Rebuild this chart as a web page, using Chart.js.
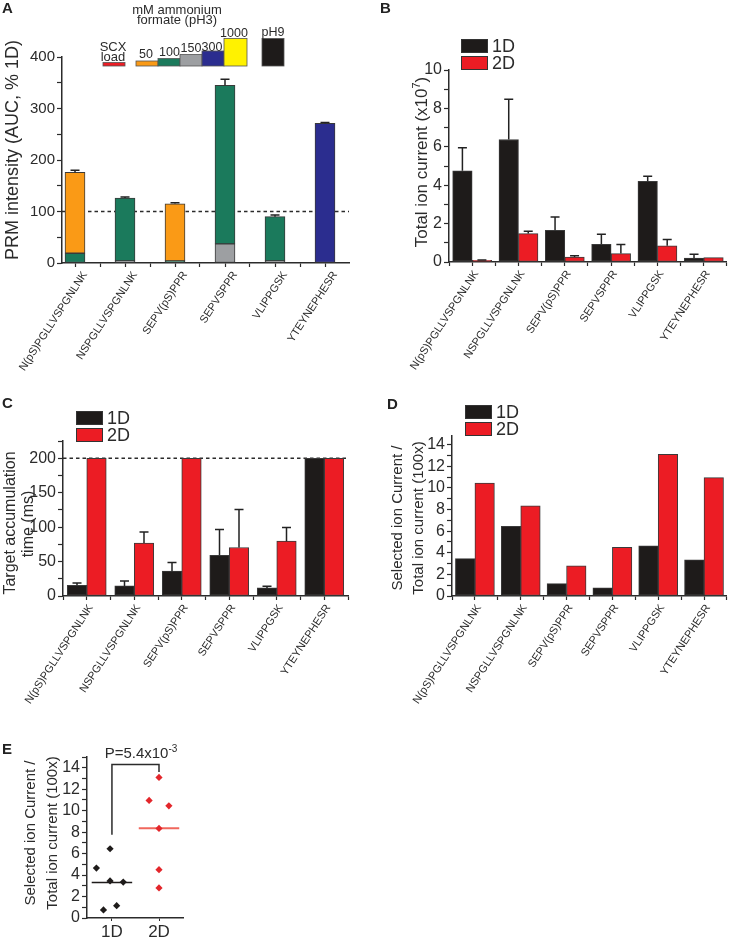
<!DOCTYPE html>
<html>
<head>
<meta charset="utf-8">
<script src="https://cdn.jsdelivr.net/npm/chart.js@4.4.0/dist/chart.umd.min.js"></script>
<style>
  body { margin: 0; background: #fff; width: 740px; height: 937px; position: relative; overflow: hidden; }
  canvas { position: absolute; }
  .tag { position: absolute; font: bold 15px "Liberation Sans", Arial, sans-serif; line-height: 15px; color: #222; }
</style>
</head>
<body>
<canvas id="chartA"></canvas>
<canvas id="chartB"></canvas>
<canvas id="chartC"></canvas>
<canvas id="chartD"></canvas>
<canvas id="chartE"></canvas>
<div class="tag" style="left:2px;top:0px">A</div>
<div class="tag" style="left:380px;top:0px">B</div>
<div class="tag" style="left:2px;top:395px">C</div>
<div class="tag" style="left:387px;top:396px">D</div>
<div class="tag" style="left:2px;top:741px">E</div>
<script>
// peptides (x categories, same order in A-D)
const peptides = ['N(pS)PGLLVSPGNLNK', 'NSPGLLVSPGNLNK', 'SEPV(pS)PPR', 'SEPVSPPR', 'VLIPPGSK', 'YTEYNEPHESR'];
const groups = ['1D', '2D'];

// A - PRM intensity (AUC, % 1D), split by SCX fraction (mM ammonium formate)
const frac150 = [null, 4, null, 37, 4, null];
const frac100 = [19, 122, 4, 308, 86, null];
const frac50 = [157, null, 111, null, null, null];
const frac300 = [null, null, null, null, null, 271];
const prmError = [4, 2, 2, 12, 3, 2];
const prmReference = 100;

// B - total ion current (x10^7)
const tic1D = [4.75, 6.38, 1.65, 0.92, 4.2, 0.21];
const tic2D = [0.09, 1.48, 0.26, 0.44, 0.84, 0.23];
const ticErr1D = [1.2, 2.1, 0.7, 0.53, 0.27, 0.19];
const ticErr2D = [0.02, 0.12, 0.07, 0.47, 0.33, 0];

// C - target accumulation time (ms)
const accum1D = [15.5, 14.6, 36, 59, 11.7, 200];
const accum2D = [200, 77, 200, 70.4, 79.6, 200];
const accumErr1D = [3.5, 7, 12.6, 37.6, 2.3, 0];
const accumErr2D = [0, 16, 0, 55.3, 19.9, 0];
const accumLimit = 200;

// D / E - selected ion current / total ion current (100x)
const ratio1D = [3.45, 6.45, 1.15, 0.75, 4.65, 3.35];
const ratio2D = [10.45, 8.35, 2.8, 4.5, 13.1, 10.95];
// E - horizontal scatter position of each point
const scatterX1D = [-0.04, -0.04, 0.1, -0.18, -0.33, 0.24];
const scatterX2D = [1.21, 1, 1, 1, 1, 0.79];
const pValue = { mant: 'P=5.4x10', exp: '-3' };
const bracket = { top: 14.3, left: 7.75, right: 13.6 };

const FONT = '"Liberation Sans", Arial, Helvetica, sans-serif';
const INK = '#2b2b2b';
const BLACK = '#1e1b1a';
const RED = '#ec1c24';
const ORANGE = '#fa9a16';
const GREEN = '#1b7a5c';
const GREY = '#9d9fa2';
const BLUE = '#2b2d8f';
const YELLOW = '#fff200';
const font = (size, weight) => (weight || '') + ' ' + size + 'px ' + FONT;

const mean = arr => arr.reduce((a, b) => a + b, 0) / arr.length;
const xy = vals => vals.map((v, i) => ({ x: i, y: v }));

function xPeptideAxis(min, max, shift) {
  return {
    type: 'linear', min: min, max: max, offset: false,
    border: { color: INK, width: 1.5 },
    grid: { offset: false, drawOnChartArea: false, drawTicks: true, tickLength: 4, tickColor: INK, tickWidth: 1.2 },
    ticks: {
      stepSize: 0.5, includeBounds: false, autoSkip: false, minRotation: 57, maxRotation: 57,
      padding: 2, labelOffset: shift, color: INK, font: { family: FONT, size: 11 },
      callback: v => Number.isInteger(v) && peptides[v] ? peptides[v] : ''
    }
  };
}

function yAxis(max, step, every, size) {
  return {
    type: 'linear', min: 0, max: max,
    border: { color: INK, width: 1.5 },
    grid: { drawOnChartArea: false, drawTicks: true, tickLength: 5, tickColor: INK, tickWidth: 1.2 },
    ticks: {
      stepSize: step, includeBounds: false, autoSkip: false, padding: 2, color: INK,
      font: { family: FONT, size: size || 16 },
      callback: v => (Math.abs(v / every - Math.round(v / every)) < 1e-6 ? v : '')
    }
  };
}

function makeChart(id, box, area, cfg) {
  const cv = document.getElementById(id);
  cv.width = box.w; cv.height = box.h;
  cv.style.left = box.x + 'px'; cv.style.top = box.y + 'px';
  const o = cfg.options;
  o.responsive = false;
  o.animation = false;
  o.layout = { padding: { top: area.y0 - box.y, right: box.x + box.w - area.x1, left: 0, bottom: 0 } };
  o.scales.x.afterFit = s => { s.height = box.y + box.h - area.y1; };
  o.scales.y.afterFit = s => { s.width = area.x0 - box.x; };
  o.plugins = Object.assign({ legend: { display: false }, tooltip: { enabled: false } }, o.plugins || {});
  return new Chart(cv, cfg);
}

// text helper: parts drawn centred on (x, y), optionally rotated
function rich(ctx, parts, x, y, angle) {
  ctx.save();
  ctx.translate(x, y);
  ctx.rotate(angle || 0);
  ctx.textBaseline = 'middle';
  ctx.textAlign = 'left';
  ctx.fillStyle = INK;
  let total = 0;
  parts.forEach(p => { ctx.font = p.font; p.w = ctx.measureText(p.t).width; total += p.w; });
  let cx = -total / 2;
  parts.forEach(p => { ctx.font = p.font; ctx.fillText(p.t, cx, p.dy || 0); cx += p.w; });
  ctx.restore();
}

function dashedLine(value) {
  return {
    id: 'dashed' + value,
    beforeDatasetsDraw(chart) {
      const { ctx, chartArea } = chart;
      const y = chart.scales.y.getPixelForValue(value);
      ctx.save();
      ctx.strokeStyle = INK; ctx.lineWidth = 1.4; ctx.setLineDash([3.5, 3]);
      ctx.beginPath(); ctx.moveTo(chartArea.left, y); ctx.lineTo(chartArea.right, y); ctx.stroke();
      ctx.restore();
    }
  };
}

// up-only error bars: sets = [{ dataset, base[], err[] }]
function errorBars(sets) {
  return {
    id: 'errorBars',
    afterDatasetsDraw(chart) {
      const ctx = chart.ctx, ys = chart.scales.y;
      ctx.save();
      ctx.strokeStyle = '#222'; ctx.lineWidth = 1.5;
      sets.forEach(s => {
        const meta = chart.getDatasetMeta(s.dataset);
        s.err.forEach((e, i) => {
          if (!e) return;
          const x = s.centred ? chart.scales.x.getPixelForValue(i) : meta.data[i].x;
          const y0 = ys.getPixelForValue(s.base[i]);
          const y1 = ys.getPixelForValue(s.base[i] + e);
          ctx.beginPath();
          ctx.moveTo(x, y0); ctx.lineTo(x, y1);
          ctx.moveTo(x - 4.5, y1); ctx.lineTo(x + 4.5, y1);
          ctx.stroke();
        });
      });
      ctx.restore();
    }
  };
}

function pairLegend(box, x0, yTop) {
  return ctx => {
    const bx = x0 - box.x, by = yTop - box.y;
    [[BLACK, '1D'], [RED, '2D']].forEach(([c, t], k) => {
      const top = by + k * 17;
      ctx.fillStyle = c; ctx.fillRect(bx, top, 27, 14);
      ctx.strokeStyle = '#333'; ctx.lineWidth = 1; ctx.strokeRect(bx + 0.5, top + 0.5, 26, 13);
      ctx.fillStyle = INK; ctx.font = font(18); ctx.textBaseline = 'middle'; ctx.textAlign = 'left';
      ctx.fillText(t, bx + 31, top + 8);
    });
  };
}

function decor(draw) {
  return { id: 'decor', afterDraw(chart) { const ctx = chart.ctx; ctx.save(); draw(ctx, chart); ctx.restore(); } };
}

function barSet(values, color, thickness) {
  return {
    data: xy(values), backgroundColor: color, borderColor: '#3a3a3a', borderWidth: 1,
    borderSkipped: false, barThickness: thickness
  };
}

// ---------- A ----------
const boxA = { x: 0, y: 0, w: 365, h: 392 };
const areaA = { x0: 62, y0: 57, x1: 349, y1: 263 };
const prmTotal = peptides.map((_, i) => [frac150, frac100, frac50, frac300].reduce((s, a) => s + (a[i] || 0), 0));
const fractionKey = [
  { c: RED, x0: 103, x1: 125, top: 62.5 },
  { c: ORANGE, x0: 136, x1: 158, top: 61, t: '50', cx: 146, by: 57.5 },
  { c: GREEN, x0: 158, x1: 180, top: 58.5, t: '100', cx: 169.5, by: 56 },
  { c: GREY, x0: 180, x1: 202, top: 54.5, t: '150', cx: 191, by: 52 },
  { c: BLUE, x0: 202, x1: 224, top: 51, t: '300', cx: 212, by: 50.5 },
  { c: YELLOW, x0: 224, x1: 247, top: 38.5, t: '1000', cx: 234, by: 37 },
  { c: BLACK, x0: 262, x1: 284, top: 38.5, t: 'pH9', cx: 273, by: 36 }
];
makeChart('chartA', boxA, areaA, {
  type: 'bar',
  data: {
    datasets: [
      barSet(frac150, GREY, 20),
      barSet(frac100, GREEN, 20),
      barSet(frac50, ORANGE, 20),
      barSet(frac300, BLUE, 20)
    ]
  },
  options: {
    scales: {
      x: Object.assign(xPeptideAxis(-0.26, 5.48, 10), { stacked: true }),
      y: Object.assign(yAxis(400, 50, 100, 15), { stacked: true })
    }
  },
  plugins: [
    dashedLine(prmReference),
    errorBars([{ dataset: 0, base: prmTotal, err: prmError, centred: true }]),
    decor(ctx => {
      rich(ctx, [{ t: 'PRM intensity (AUC, % 1D)', font: font(18) }], 13, 150, -Math.PI / 2);
      ctx.textAlign = 'center'; ctx.textBaseline = 'alphabetic'; ctx.fillStyle = INK;
      ctx.font = font(13);
      ctx.fillText('mM ammonium', 177, 13.5);
      ctx.fillText('formate (pH3)', 177, 23.5);
      ctx.fillText('SCX', 113, 51);
      ctx.fillText('load', 113, 60.5);
      fractionKey.forEach(k => {
        ctx.fillStyle = k.c;
        ctx.fillRect(k.x0, k.top, k.x1 - k.x0, 66 - k.top);
        ctx.strokeStyle = '#555'; ctx.lineWidth = 0.8;
        ctx.strokeRect(k.x0, k.top, k.x1 - k.x0, 66 - k.top);
        if (k.t) {
          ctx.fillStyle = INK; ctx.font = font(12.5);
          ctx.fillText(k.t, k.cx, k.by);
        }
      });
    })
  ]
});

// ---------- B ----------
const boxB = { x: 370, y: 0, w: 370, h: 392 };
const areaB = { x0: 449, y0: 70, x1: 737, y1: 262 };
makeChart('chartB', boxB, areaB, {
  type: 'bar',
  data: { datasets: [barSet(tic1D, BLACK, 19.5), barSet(tic2D, RED, 19.5)] },
  options: {
    scales: { x: xPeptideAxis(-0.5, 5.5, 4), y: yAxis(10, 1, 2) }
  },
  plugins: [
    errorBars([{ dataset: 0, base: tic1D, err: ticErr1D }, { dataset: 1, base: tic2D, err: ticErr2D }]),
    decor(ctx => {
      rich(ctx, [
        { t: 'Total ion current (x10', font: font(17) },
        { t: '7', font: font(11), dy: -5 },
        { t: ')', font: font(17) }
      ], 422 - boxB.x, 162, -Math.PI / 2);
      pairLegend(boxB, 461, 39)(ctx);
    })
  ]
});

// ---------- C ----------
const boxC = { x: 0, y: 380, w: 365, h: 345 };
const areaC = { x0: 63, y0: 441, x1: 348, y1: 596 };
makeChart('chartC', boxC, areaC, {
  type: 'bar',
  data: { datasets: [barSet(accum1D, BLACK, 19.5), barSet(accum2D, RED, 19.5)] },
  options: {
    scales: { x: xPeptideAxis(-0.5, 5.5, 4), y: yAxis(225, 25, 50) }
  },
  plugins: [
    dashedLine(accumLimit),
    errorBars([{ dataset: 0, base: accum1D, err: accumErr1D }, { dataset: 1, base: accum2D, err: accumErr2D }]),
    decor(ctx => {
      rich(ctx, [{ t: 'Target accumulation', font: font(16) }], 11, 523 - boxC.y, -Math.PI / 2);
      rich(ctx, [{ t: 'time (ms)', font: font(16) }], 29, 524 - boxC.y, -Math.PI / 2);
      pairLegend(boxC, 76, 411)(ctx);
    })
  ]
});

// ---------- D ----------
const boxD = { x: 370, y: 380, w: 370, h: 345 };
const areaD = { x0: 452, y0: 436, x1: 738, y1: 596 };
makeChart('chartD', boxD, areaD, {
  type: 'bar',
  data: { datasets: [barSet(ratio1D, BLACK, 19.5), barSet(ratio2D, RED, 19.5)] },
  options: {
    scales: { x: xPeptideAxis(-0.5, 5.5, 4), y: yAxis(14.8, 1, 2) }
  },
  plugins: [
    decor(ctx => {
      rich(ctx, [{ t: 'Selected ion Current /', font: font(15) }], 398 - boxD.x, 518 - boxD.y, -Math.PI / 2);
      rich(ctx, [{ t: 'Total ion current (100x)', font: font(15) }], 419 - boxD.x, 518 - boxD.y, -Math.PI / 2);
      pairLegend(boxD, 465, 405)(ctx);
    })
  ]
});

// ---------- E ----------
const boxE = { x: 0, y: 730, w: 250, h: 207 };
const areaE = { x0: 87, y0: 757, x1: 183, y1: 918 };
const mean1D = mean(ratio1D), mean2D = mean(ratio2D);
makeChart('chartE', boxE, areaE, {
  type: 'scatter',
  data: {
    datasets: [
      { data: ratio1D.map((v, i) => ({ x: scatterX1D[i], y: v })), pointStyle: 'rectRot', pointRadius: 3.6, backgroundColor: BLACK, borderColor: BLACK, borderWidth: 0 },
      { data: ratio2D.map((v, i) => ({ x: scatterX2D[i], y: v })), pointStyle: 'rectRot', pointRadius: 3.6, backgroundColor: '#e3262b', borderColor: '#e3262b', borderWidth: 0 },
      { type: 'line', data: [{ x: -0.43, y: mean1D }, { x: 0.43, y: mean1D }], borderColor: BLACK, borderWidth: 1.5, pointRadius: 0 },
      { type: 'line', data: [{ x: 0.57, y: mean2D }, { x: 1.43, y: mean2D }], borderColor: '#f0675d', borderWidth: 2, pointRadius: 0 }
    ]
  },
  options: {
    scales: {
      x: {
        type: 'linear', min: -0.53, max: 1.51,
        border: { color: INK, width: 1.5 },
        grid: { drawOnChartArea: false, drawTicks: true, tickLength: 3, tickColor: INK },
        ticks: { stepSize: 1, includeBounds: false, padding: 1, maxRotation: 0, color: INK, font: { family: FONT, size: 17 }, callback: v => groups[v] || '' }
      },
      y: yAxis(15, 1, 2)
    }
  },
  plugins: [
    decor((ctx, chart) => {
      const xs = chart.scales.x, ys = chart.scales.y;
      ctx.strokeStyle = INK; ctx.lineWidth = 1.5;
      ctx.beginPath();
      ctx.moveTo(xs.getPixelForValue(0), ys.getPixelForValue(bracket.left));
      ctx.lineTo(xs.getPixelForValue(0), ys.getPixelForValue(bracket.top));
      ctx.lineTo(xs.getPixelForValue(1), ys.getPixelForValue(bracket.top));
      ctx.lineTo(xs.getPixelForValue(1), ys.getPixelForValue(bracket.right));
      ctx.stroke();
      rich(ctx, [{ t: pValue.mant, font: font(15) }, { t: pValue.exp, font: font(10), dy: -5 }], 141, 754 - boxE.y, 0);
      rich(ctx, [{ t: 'Selected ion Current /', font: font(15) }], 31, 833 - boxE.y, -Math.PI / 2);
      rich(ctx, [{ t: 'Total ion current (100x)', font: font(15) }], 53, 833 - boxE.y, -Math.PI / 2);
    })
  ]
});
</script>
</body>
</html>
